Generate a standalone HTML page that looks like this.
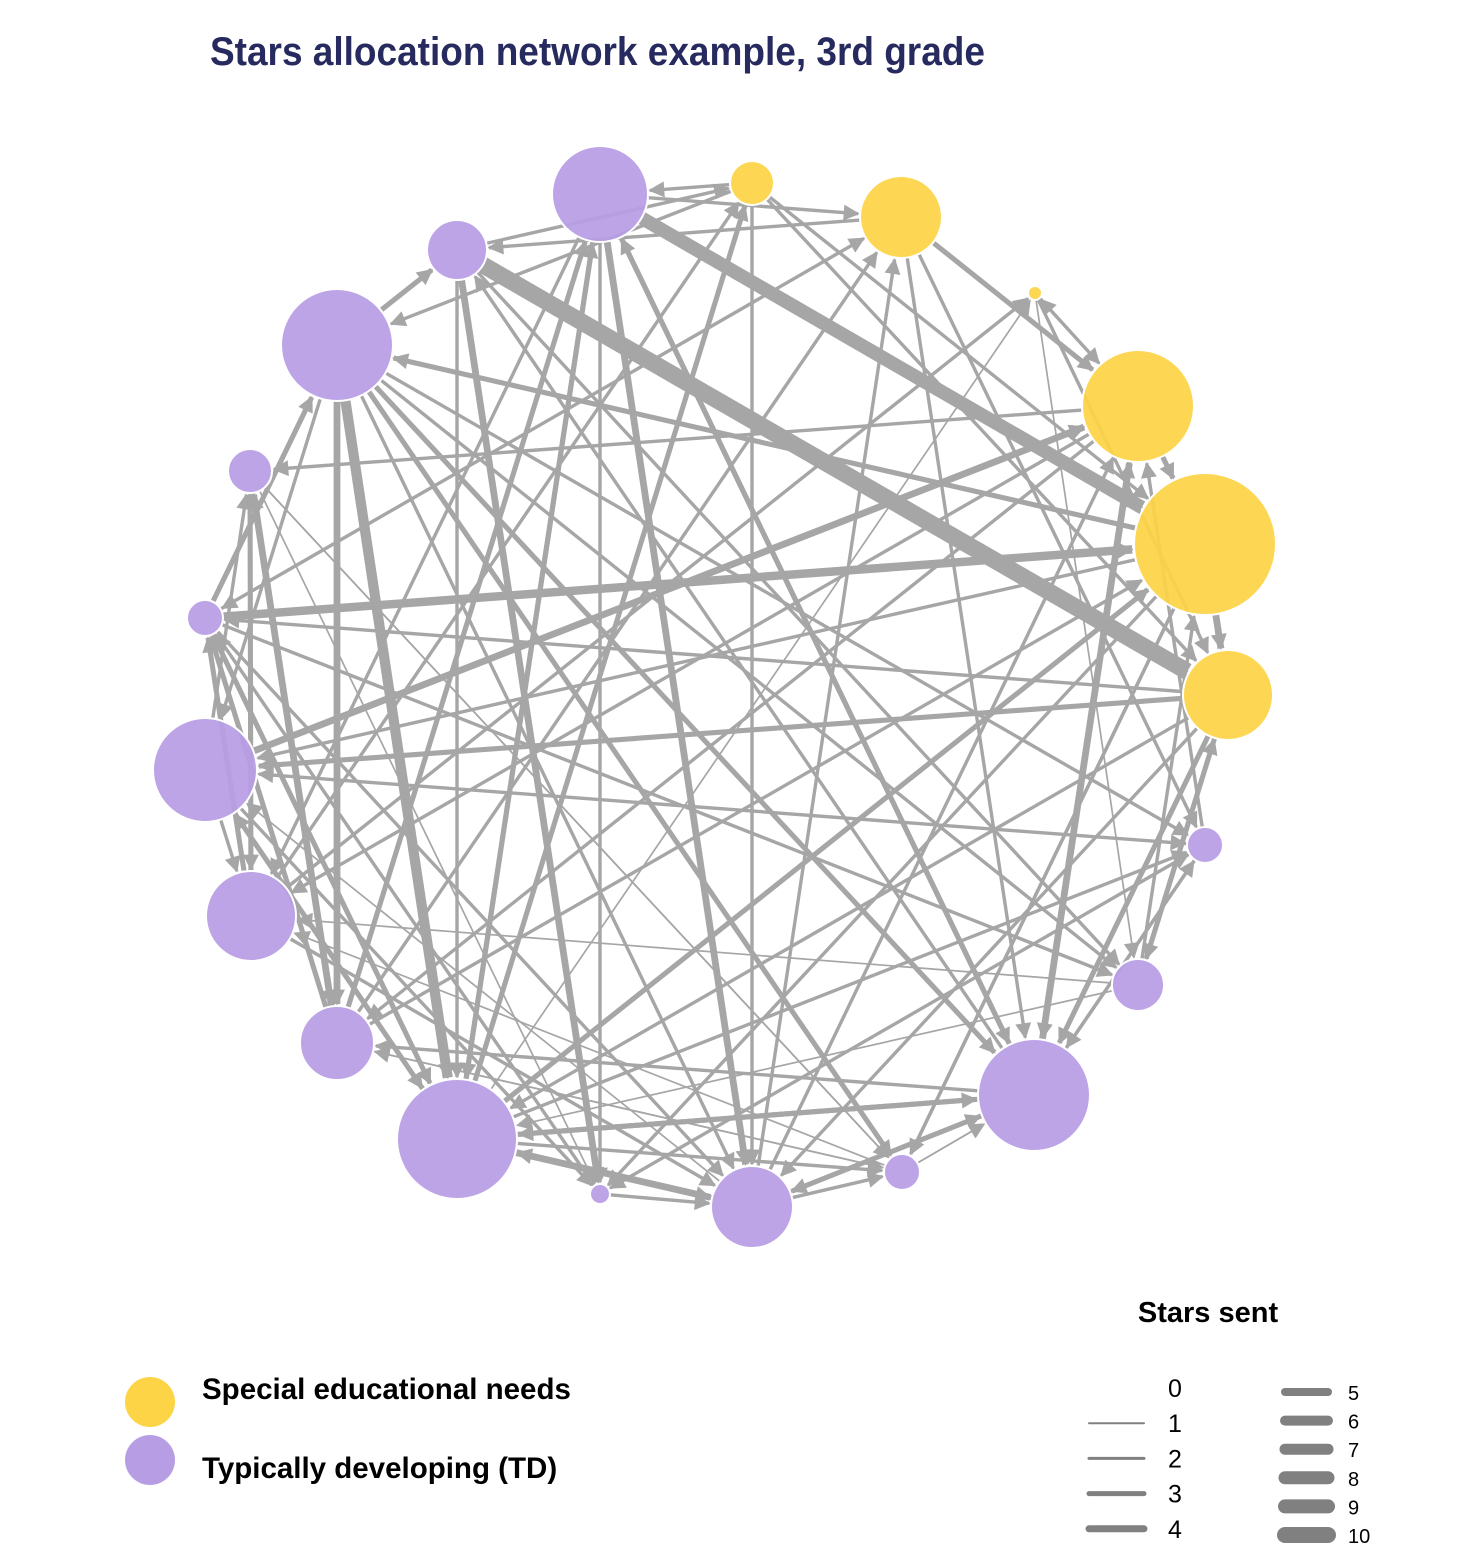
<!DOCTYPE html>
<html><head><meta charset="utf-8"><style>
body{margin:0;background:#fff;}
svg{display:block;font-family:"Liberation Sans",sans-serif;}
</style></head><body>
<svg id="chart" width="1484" height="1566" viewBox="0 0 1484 1566">
<text x="210" y="65" font-size="40" font-weight="bold" fill="#262a5e" transform="translate(210,0) scale(0.925,1) translate(-210,0)">Stars allocation network example, 3rd grade</text>
<defs>
<marker id="arr" viewBox="0 0 10 10" refX="9" refY="5" markerWidth="20" markerHeight="16" markerUnits="userSpaceOnUse" orient="auto"><path d="M0,0 L10,5 L0,10 z" fill="#a6a6a6"/></marker>
</defs>
<g id="edges"></g>
<g id="nodes"></g>
<g>
<circle cx="150" cy="1402" r="25" fill="#fdd446"/>
<text x="202" y="1399" font-size="29.5" font-weight="bold">Special educational needs</text>
<circle cx="150" cy="1460" r="25" fill="#b79de4"/>
<text x="202" y="1478" font-size="29.5" font-weight="bold">Typically developing (TD)</text>
</g>
<g id="wlegend">
<text x="1208" y="1322" font-size="29" font-weight="bold" text-anchor="middle">Stars sent</text>
</g>
</svg>
<script>
const nodeX=[752,901,1035,1138,1205,1228,1205,1138,1034,902,752,600,457,337,251,205,205,250,337,457,600];
const nodeY=[183,217,293,406,544,695,845,985,1095,1172,1207,1194,1139,1043,916,770,618,471,345,250,194];
const nodeR=[22,41,7,56,71,45,18,26,56,18,41,10,60,37,45,52,18,22,56,30,48];
const nodeSEN=[1,1,1,1,1,1,0,0,0,0,0,0,0,0,0,0,0,0,0,0,0];
const edgeFrom=[20,19,16,15,18,18,18,19,20,0,0,1,1,2,3,3,4,4,5,5,5,6,7,8,8,8,9,10,10,10,11,12,12,12,12,13,13,14,14,15,15,15,16,16,17,17,18,18,19,19,20,20,12,13,14,15,16,17,18,19,20,0,1,2,3,4,5,6,7,8,9,10,11,3,4,8,12,13,18,2,
 20,19,18,17,16,15,14,13,12,11,10,9,8,7,6,5,4,3,2,1,0,17,16,15,14,13,12,18,19,20,0,1,3,4,5,6,7,8,9,10,12,14,15,16];
const edgeTo=[4,5,4,3,12,13,8,11,10,20,4,3,8,3,4,13,5,15,7,15,12,8,5,12,10,3,8,12,8,1,10,10,15,9,4,17,16,17,16,14,6,17,18,12,14,11,9,15,5,12,1,11,0,1,2,3,7,9,10,11,12,5,6,7,8,9,10,11,12,13,14,15,16,17,18,19,20,20,19,5,
 8,7,6,9,10,12,0,4,2,6,3,13,20,14,15,16,11,14,5,19,18,13,12,11,10,9,8,7,0,14,10,16,2,9,8,3,4,6,8,9,6,2,3,1];
const edgeW=[8,10,5,4,6,4,3,4,4,2,2,3,2,2,3,2,4,2,3,3,2,2,2,3,3,4,1,3,2,2,2,4,3,2,3,4,3,3,3,2,1,2,3,2,2,1,3,2,2,2,2,2,3,2,2,2,2,1,2,2,3,2,2,1,3,2,2,2,1,2,1,1,2,2,3,2,3,3,3,2,
 3,2,2,1,2,2,2,2,1,1,2,1,3,1,2,2,2,2,1,2,2,2,3,2,2,1,3,2,2,2,2,1,1,2,3,2,2,2,1,2,2,1,2,2];
const ns="http://www.w3.org/2000/svg";
const eg=document.getElementById('edges');
for(let i=0;i<edgeFrom.length;i++){
 const a=edgeFrom[i],b=edgeTo[i]; if(a===b||b===undefined) continue;
 const dx=nodeX[b]-nodeX[a],dy=nodeY[b]-nodeY[a],L=Math.hypot(dx,dy);
 const ux=dx/L,uy=dy/L;
 const l=document.createElementNS(ns,'line');
 l.setAttribute('x1',nodeX[a]+ux*nodeR[a]);l.setAttribute('y1',nodeY[a]+uy*nodeR[a]);
 l.setAttribute('x2',nodeX[b]-ux*(nodeR[b]+2));l.setAttribute('y2',nodeY[b]-uy*(nodeR[b]+2));
 l.setAttribute('stroke','#a6a6a6');l.setAttribute('stroke-width',(edgeW[i]||1)*1.7);
 l.setAttribute('marker-end','url(#arr)');
 
 
 eg.appendChild(l);
}
const ng=document.getElementById('nodes');
for(let i=0;i<nodeX.length;i++){
 const c=document.createElementNS(ns,'circle');
 c.setAttribute('cx',nodeX[i]);c.setAttribute('cy',nodeY[i]);c.setAttribute('r',nodeR[i]);
 c.setAttribute('fill',nodeSEN[i]?'#fdd446':'#b79de4');c.setAttribute('fill-opacity','0.93');
 c.setAttribute('stroke','#fff');c.setAttribute('stroke-width','2');
 
 
 ng.appendChild(c);
}
const legVals=[0,1,2,3,4,5,6,7,8,9,10];
const legThick=[0,2,3,5,7,8,10,11,13,14,16];
const wl=document.getElementById('wlegend');
legVals.forEach((v,i)=>{
 const left=i<5; const y=left?1388+i*35.2:1392+(i-5)*28.6;
 if(v>0){const l=document.createElementNS(ns,'line');
  l.setAttribute('x1',left?1089:1285);l.setAttribute('x2',left?1144:1328);
  l.setAttribute('y1',y);l.setAttribute('y2',y);l.setAttribute('stroke','#808080');
  l.setAttribute('stroke-width',legThick[i]);l.setAttribute('stroke-linecap','round');
  
  
  wl.appendChild(l);}
 const t=document.createElementNS(ns,'text');
 t.setAttribute('x',left?1168:1348);t.setAttribute('y',y+(left?9:8));
 t.setAttribute('font-size',left?25:20);t.textContent=v;
 
 
 wl.appendChild(t);
});
</script>
</body></html>
